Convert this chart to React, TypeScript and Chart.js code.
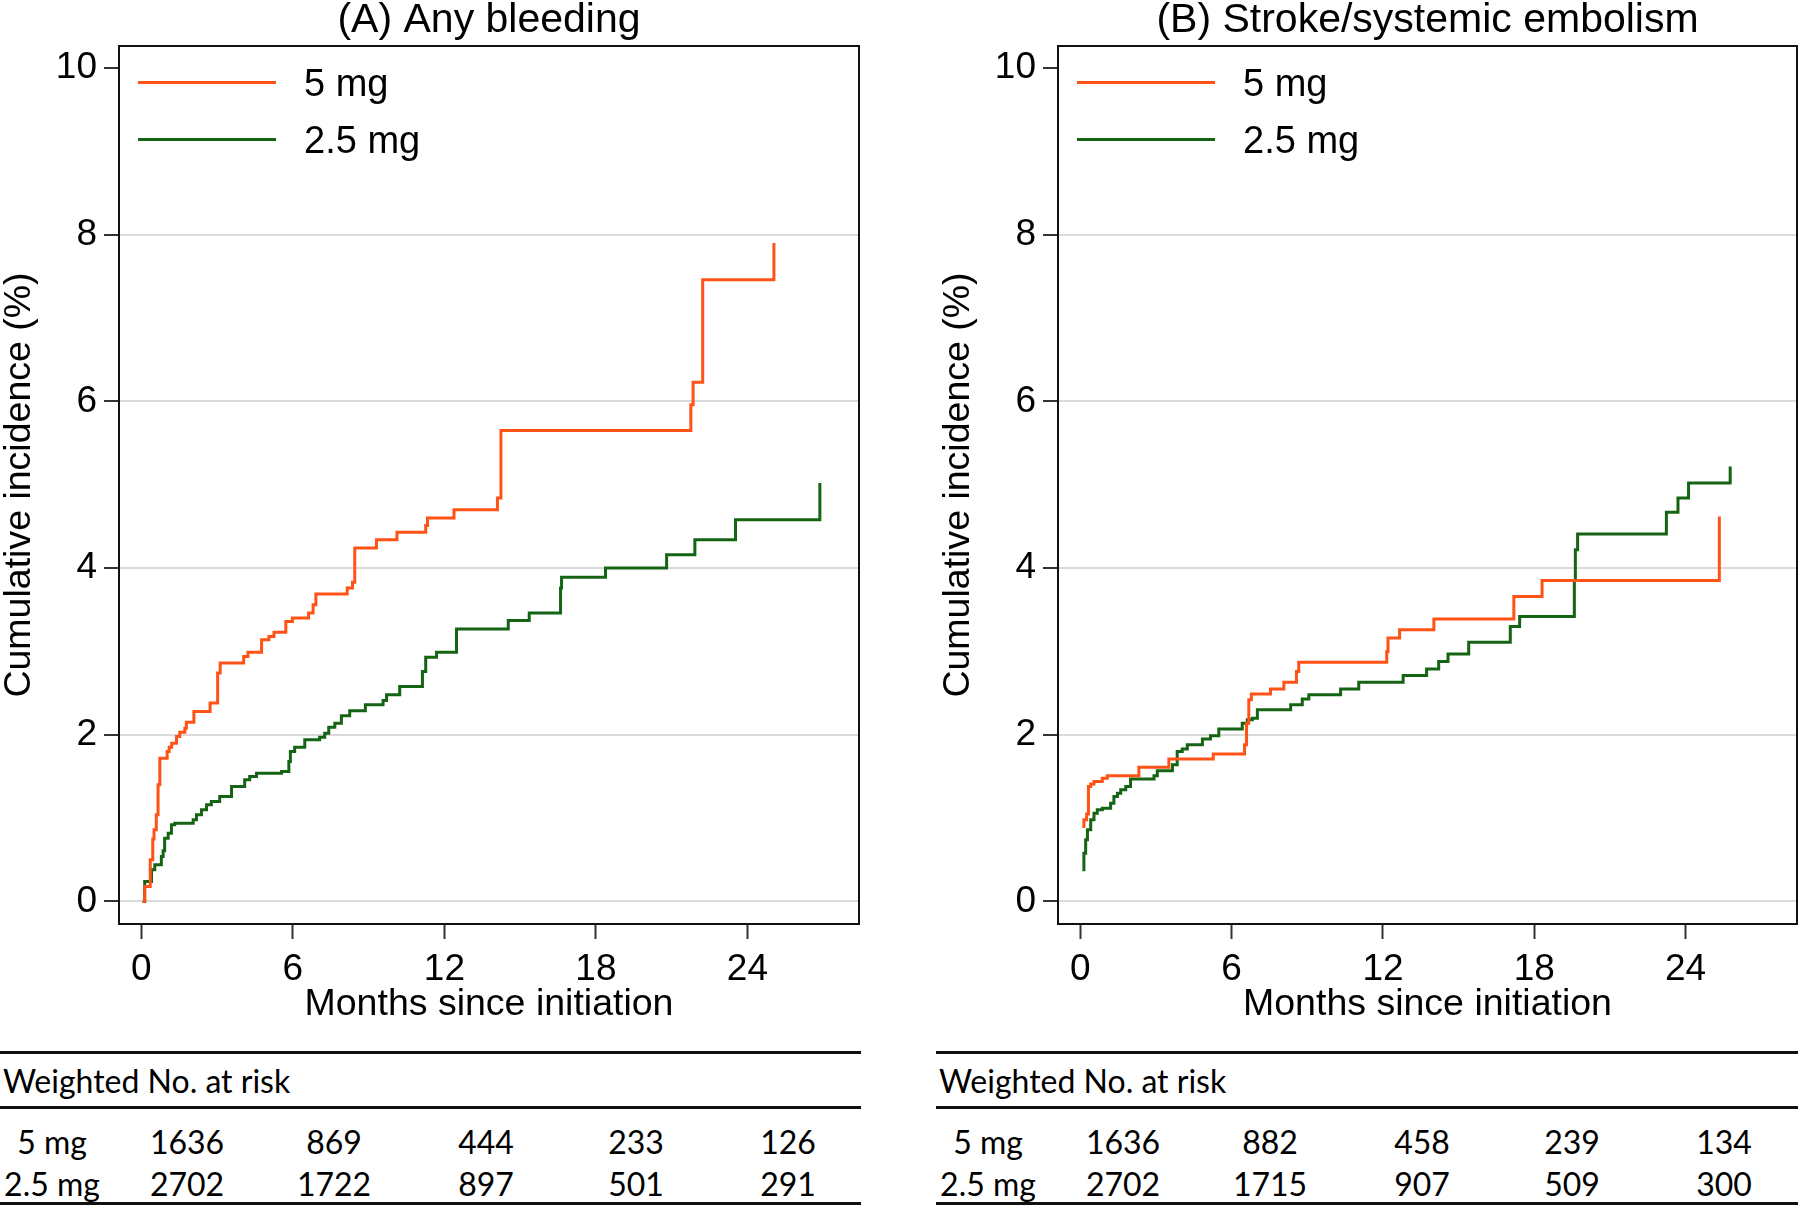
import React, { useEffect, useRef } from 'react';
import { Chart, registerables } from 'chart.js';

Chart.register(...registerables);

const FONT = '"Liberation Sans", Arial, sans-serif';
const TABLE_FONT = 'Lato, "Liberation Sans", sans-serif';
const ORANGE = 'rgb(255, 82, 22)';
const GREEN = 'rgb(20, 100, 20)';

const seriesLabels = ['5 mg', '2.5 mg'];
const xTicks = [0, 6, 12, 18, 24];
const yTicks = [0, 2, 4, 6, 8, 10];
const panelTitles = ['(A) Any bleeding', '(B) Stroke/systemic embolism'];
const xTitle = 'Months since initiation';
const yTitle = 'Cumulative incidence (%)';

// Panel A: any bleeding (step positions, months / cumulative %)
const bleed5Months = [0.05, 0.13, 0.35, 0.45, 0.5, 0.59, 0.66, 0.73, 1.02, 1.1, 1.2, 1.39, 1.52, 1.72, 1.78, 2.08, 2.72, 3.02, 3.12, 4.05, 4.22, 4.76, 5.05, 5.25, 5.72, 5.98, 6.62, 6.8, 6.91, 8.15, 8.36, 8.45, 9.31, 10.12, 11.26, 11.33, 12.38, 14.1, 14.24, 21.76, 21.85, 22.23, 25.05];
const bleed5Pct = [0, 0.18, 0.5, 0.75, 0.86, 1.04, 1.4, 1.72, 1.8, 1.85, 1.9, 1.98, 2.03, 2.08, 2.15, 2.28, 2.38, 2.74, 2.86, 2.94, 2.99, 3.14, 3.18, 3.23, 3.36, 3.4, 3.46, 3.56, 3.69, 3.76, 3.83, 4.24, 4.34, 4.43, 4.51, 4.6, 4.7, 4.84, 5.65, 5.96, 6.23, 7.46, 7.9];
const bleed25Months = [0.05, 0.13, 0.4, 0.53, 0.79, 0.86, 0.92, 1.06, 1.19, 1.32, 2.05, 2.18, 2.38, 2.58, 2.77, 3.1, 3.57, 4.09, 4.29, 4.56, 5.55, 5.84, 5.9, 6.07, 6.47, 7.06, 7.26, 7.42, 7.66, 7.92, 8.25, 8.87, 9.57, 9.71, 10.23, 11.13, 11.26, 11.69, 12.48, 14.53, 15.36, 16.6, 16.64, 18.38, 20.8, 21.92, 23.53, 26.87];
const bleed25Pct = [0, 0.24, 0.38, 0.44, 0.54, 0.61, 0.76, 0.82, 0.92, 0.94, 0.98, 1.04, 1.1, 1.16, 1.2, 1.26, 1.38, 1.46, 1.5, 1.54, 1.56, 1.68, 1.8, 1.85, 1.94, 1.97, 2.02, 2.09, 2.14, 2.23, 2.29, 2.36, 2.41, 2.48, 2.58, 2.76, 2.93, 2.99, 3.27, 3.37, 3.46, 3.76, 3.89, 4.0, 4.16, 4.34, 4.58, 5.02];

// Panel B: stroke/systemic embolism
const stroke5Months = [0.08, 0.14, 0.25, 0.32, 0.41, 0.54, 0.87, 1.07, 2.32, 3.51, 5.27, 6.51, 6.59, 6.68, 6.78, 7.54, 8.07, 8.57, 8.66, 12.15, 12.2, 12.66, 14.02, 17.19, 18.31, 25.34];
const stroke5Pct = [0.9, 0.98, 1.05, 1.38, 1.41, 1.44, 1.48, 1.51, 1.61, 1.71, 1.77, 1.88, 2.14, 2.42, 2.49, 2.55, 2.63, 2.76, 2.87, 3.0, 3.16, 3.26, 3.39, 3.66, 3.85, 4.62];
const stroke25Months = [0.08, 0.14, 0.21, 0.28, 0.41, 0.54, 0.67, 0.87, 1.2, 1.33, 1.47, 1.6, 1.8, 1.99, 2.92, 3.05, 3.65, 3.84, 4.04, 4.24, 4.84, 5.16, 5.49, 6.42, 6.62, 6.82, 7.02, 8.34, 8.8, 9.06, 10.32, 11.04, 12.8, 13.73, 14.21, 14.58, 15.4, 17.05, 17.42, 19.59, 19.63, 19.72, 23.24, 23.7, 24.12, 25.77];
const stroke25Pct = [0.38, 0.58, 0.74, 0.86, 0.98, 1.06, 1.1, 1.12, 1.18, 1.26, 1.3, 1.34, 1.38, 1.47, 1.51, 1.57, 1.64, 1.8, 1.83, 1.88, 1.95, 1.99, 2.07, 2.14, 2.18, 2.2, 2.3, 2.36, 2.43, 2.48, 2.55, 2.63, 2.71, 2.79, 2.88, 2.97, 3.11, 3.3, 3.42, 3.85, 4.22, 4.41, 4.67, 4.84, 5.02, 5.22];

// Number at risk tables
const riskHeader = 'Weighted No. at risk';
const riskBleed5 = [1636, 869, 444, 233, 126];
const riskBleed25 = [2702, 1722, 897, 501, 291];
const riskStroke5 = [1636, 882, 458, 239, 134];
const riskStroke25 = [2702, 1715, 907, 509, 300];

const toPoints = (xs: number[], ys: number[]) => xs.map((x, i) => ({ x, y: ys[i] }));

const frameAndLegend = {
  id: 'frameAndLegend',
  afterDatasetsDraw(chart: any) {
    const { ctx, chartArea } = chart;
    const { left, top, right, bottom } = chartArea;
    ctx.save();
    ctx.strokeStyle = '#111';
    ctx.lineWidth = 2;
    ctx.strokeRect(left, top, right - left, bottom - top);
    ctx.font = `38px ${FONT}`;
    ctx.textBaseline = 'middle';
    ctx.textAlign = 'left';
    ctx.fillStyle = '#000';
    chart.data.datasets.forEach((ds: any, i: number) => {
      const y = top + 36.5 + i * 57;
      ctx.strokeStyle = ds.borderColor;
      ctx.lineWidth = 3;
      ctx.beginPath();
      ctx.moveTo(left + 19, y);
      ctx.lineTo(left + 157, y);
      ctx.stroke();
      ctx.fillText(ds.label, left + 185, y + 3.5);
    });
    ctx.restore();
  },
};

function makeConfig(title: string, d5: { x: number; y: number }[], d25: { x: number; y: number }[]): any {
  const tickFont = { family: FONT, size: 37 };
  return {
    type: 'line',
    data: {
      datasets: [
        { label: seriesLabels[0], data: d5, borderColor: ORANGE, borderWidth: 3, pointRadius: 0, stepped: true, fill: false },
        { label: seriesLabels[1], data: d25, borderColor: GREEN, borderWidth: 3, pointRadius: 0, stepped: true, fill: false },
      ],
    },
    options: {
      responsive: false,
      animation: false,
      events: [],
      layout: { padding: { left: 0, right: 3, top: 0, bottom: 0 } },
      plugins: {
        legend: { display: false },
        tooltip: { enabled: false },
        title: {
          display: true,
          text: title,
          fullSize: false,
          color: '#000',
          font: { family: FONT, size: 41, lineHeight: 1, weight: 'normal' },
          padding: { top: 0, bottom: 5 },
        },
      },
      scales: {
        x: {
          type: 'linear',
          min: -0.887,
          max: 28.42,
          afterBuildTicks: (s: any) => {
            s.ticks = xTicks.map((v) => ({ value: v }));
          },
          afterFit: (s: any) => {
            s.height = 103;
          },
          grid: { display: true, drawOnChartArea: false, drawTicks: true, tickLength: 15, tickColor: '#333', tickWidth: 2 },
          border: { display: false },
          ticks: { color: '#000', font: tickFont, padding: 9, maxRotation: 0, autoSkip: false },
          title: { display: true, text: xTitle, color: '#000', font: { family: FONT, size: 37.5, lineHeight: 1.2 }, padding: { top: 0, bottom: 0 } },
        },
        y: {
          type: 'linear',
          min: -0.27,
          max: 10.264,
          afterBuildTicks: (s: any) => {
            s.ticks = yTicks.map((v) => ({ value: v }));
          },
          afterFit: (s: any) => {
            s.width = 119;
          },
          grid: {
            color: (c: any) => (c.tick && c.tick.value === 10 ? 'rgba(0,0,0,0)' : '#dadada'),
            lineWidth: 2,
            drawTicks: true,
            tickLength: 15,
            tickColor: '#333',
            tickWidth: 2,
          },
          border: { display: false },
          ticks: { color: '#000', font: tickFont, padding: 7 },
          title: { display: true, text: yTitle, color: '#000', font: { family: FONT, size: 37.5, lineHeight: 1 }, padding: { top: 1, bottom: 0 } },
        },
      },
    },
    plugins: [frameAndLegend],
  };
}

function KMChart({ title, d5, d25, left, width }: any) {
  const ref = useRef<HTMLCanvasElement | null>(null);
  useEffect(() => {
    if (!ref.current) return;
    const chart = new Chart(ref.current, makeConfig(title, d5, d25));
    return () => chart.destroy();
  }, []);
  return (
    <div style={{ position: 'absolute', left, top: 0, width, height: 1027 }}>
      <canvas ref={ref} width={width} height={1027} style={{ width, height: 1027, display: 'block' }} />
    </div>
  );
}

const colCenters = [187, 334, 486, 636, 788];

function RiskTable({ left, width, row5, row25 }: any) {
  const line = (top: number) => (
    <div style={{ position: 'absolute', left, top, width, height: 3, background: '#111' }} />
  );
  const text = (t: string, cx: number, cy: number, align: 'center' | 'left' = 'center') => (
    <div
      style={{
        position: 'absolute',
        left: align === 'center' ? left + cx - 80 : left + cx,
        top: cy - 21,
        width: align === 'center' ? 160 : 500,
        height: 40,
        lineHeight: '40px',
        textAlign: align,
        fontFamily: TABLE_FONT,
        fontSize: 32,
        color: '#000',
        whiteSpace: 'nowrap',
      }}
    >
      {t}
    </div>
  );
  return (
    <>
      {line(1050.5)}
      {line(1105.5)}
      {line(1201.5)}
      {text(riskHeader, 3, 1082, 'left')}
      {text(seriesLabels[0], 52, 1143)}
      {text(seriesLabels[1], 52, 1185)}
      {row5.map((v: number, i: number) => <React.Fragment key={'a' + i}>{text(String(v), colCenters[i], 1143)}</React.Fragment>)}
      {row25.map((v: number, i: number) => <React.Fragment key={'b' + i}>{text(String(v), colCenters[i], 1185)}</React.Fragment>)}
    </>
  );
}

export default function App() {
  return (
    <div style={{ position: 'fixed', left: 0, top: 0, width: 1800, height: 1207, background: '#fff', overflow: 'hidden' }}>
      <KMChart title={panelTitles[0]} d5={toPoints(bleed5Months, bleed5Pct)} d25={toPoints(bleed25Months, bleed25Pct)} left={0} width={862} />
      <KMChart title={panelTitles[1]} d5={toPoints(stroke5Months, stroke5Pct)} d25={toPoints(stroke25Months, stroke25Pct)} left={939} width={861} />
      <RiskTable left={0} width={861} row5={riskBleed5} row25={riskBleed25} />
      <RiskTable left={936} width={862} row5={riskStroke5} row25={riskStroke25} />
    </div>
  );
}
